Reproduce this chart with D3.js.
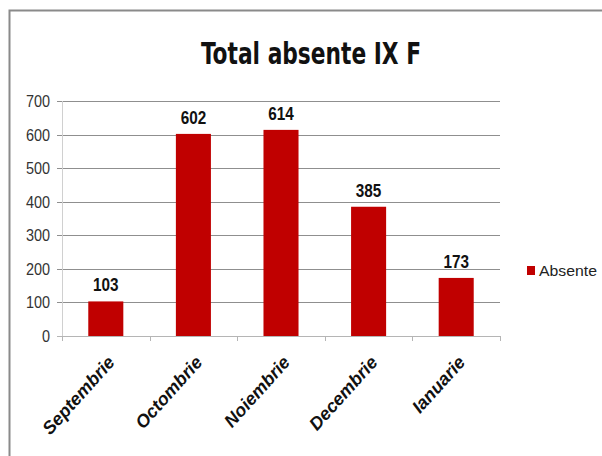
<!DOCTYPE html>
<html>
<head>
<meta charset="utf-8">
<script src="https://cdn.jsdelivr.net/npm/d3@7"></script>
<style>
  body { margin: 0; background: #fff; }
</style>
</head>
<body>
<div id="chart"></div>
<script>
// Total absente IX F
var months = ["Septembrie", "Octombrie", "Noiembrie", "Decembrie", "Ianuarie"];
var absente = [103, 602, 614, 385, 173];
var yTicks = [0, 100, 200, 300, 400, 500, 600, 700];

var width = 602, height = 456;
var margin = {top: 101, left: 62, right: 102, bottom: 120};

var svg = d3.select("#chart").append("svg")
    .attr("width", width)
    .attr("height", height);

// frame
svg.append("path")
    .attr("d", "M9.5," + height + "V10.5H" + width)
    .attr("fill", "none")
    .attr("stroke", "#8a8a8a")
    .attr("stroke-width", 2);

svg.append("text")
    .attr("x", 311)
    .attr("y", 64)
    .attr("text-anchor", "middle")
    .attr("font-family", "'Liberation Sans Narrow', 'DejaVu Sans Condensed', Arial, sans-serif")
    .attr("font-weight", "bold")
    .attr("font-size", 31)
    .attr("textLength", 220)
    .attr("lengthAdjust", "spacingAndGlyphs")
    .attr("fill", "#111")
    .text("Total absente IX F");

var x = d3.scaleBand()
    .domain(months)
    .range([margin.left, width - margin.right])
    .paddingInner(0.6)
    .paddingOuter(0.3);

var y = d3.scaleLinear()
    .domain([0, 700])
    .range([height - margin.bottom, margin.top]);

// grid
svg.append("g")
    .selectAll("line")
    .data(yTicks)
    .enter().append("line")
    .attr("x1", margin.left - 5)
    .attr("x2", width - margin.right)
    .attr("y1", function(d) { return Math.round(y(d)) + 0.5; })
    .attr("y2", function(d) { return Math.round(y(d)) + 0.5; })
    .attr("stroke", function(d) { return d === 0 ? "#b5b5b5" : "#8f8f8f"; })
    .attr("stroke-width", 1);

// y axis line
svg.append("line")
    .attr("x1", margin.left + 0.5).attr("x2", margin.left + 0.5)
    .attr("y1", y(700)).attr("y2", y(0))
    .attr("stroke", "#d0d0d0");

// tick marks under the axis
var step = (width - margin.right - margin.left) / months.length;
svg.append("g")
    .selectAll("line")
    .data(d3.range(months.length + 1))
    .enter().append("line")
    .attr("x1", function(i) { return Math.round(margin.left + i * step) + 0.5; })
    .attr("x2", function(i) { return Math.round(margin.left + i * step) + 0.5; })
    .attr("y1", y(0))
    .attr("y2", y(0) + 5)
    .attr("stroke", "#b5b5b5");

// y labels (narrowed a bit like the original)
svg.append("g")
    .selectAll("text")
    .data(yTicks)
    .enter().append("text")
    .attr("transform", function(d) { return "translate(" + (margin.left - 12) + "," + (y(d) + 6) + ")scale(0.85,1)"; })
    .attr("text-anchor", "end")
    .attr("font-family", "Arial, sans-serif")
    .attr("font-size", 17)
    .attr("fill", "#333")
    .text(function(d) { return d; });

// bars
svg.append("g")
    .selectAll("rect")
    .data(absente)
    .enter().append("rect")
    .attr("x", function(d, i) { return x(months[i]); })
    .attr("y", function(d) { return y(d); })
    .attr("width", x.bandwidth())
    .attr("height", function(d) { return y(0) - y(d); })
    .attr("fill", "#c00000");

// value labels
svg.append("g")
    .selectAll("text")
    .data(absente)
    .enter().append("text")
    .attr("transform", function(d, i) {
      return "translate(" + (x(months[i]) + x.bandwidth() / 2) + "," + (y(d) - 10) + ")scale(0.85,1)";
    })
    .attr("text-anchor", "middle")
    .attr("font-family", "Arial, sans-serif")
    .attr("font-weight", "bold")
    .attr("font-size", 18)
    .attr("fill", "#111")
    .text(function(d) { return d; });

// x labels rotated
svg.append("g")
    .selectAll("text")
    .data(months)
    .enter().append("text")
    .attr("transform", function(d) {
      return "translate(" + (x(d) + x.bandwidth() / 2 + 10) + "," + (y(0) + 27) + ")rotate(-48)";
    })
    .attr("text-anchor", "end")
    .attr("font-family", "Arial, 'Liberation Sans', sans-serif")
    .attr("font-weight", "bold")
    .attr("font-style", "italic")
    .attr("font-size", 18)
    .attr("fill", "#111")
    .text(function(d) { return d; });

// legend
var legend = svg.append("g").attr("transform", "translate(527,266)");
legend.append("rect")
    .attr("width", 8).attr("height", 9)
    .attr("fill", "#c00000");
legend.append("text")
    .attr("x", 12)
    .attr("y", 10)
    .attr("font-family", "Arial, sans-serif")
    .attr("font-size", 15)
    .attr("textLength", 58)
    .attr("lengthAdjust", "spacingAndGlyphs")
    .attr("fill", "#222")
    .text("Absente");
</script>
</body>
</html>
